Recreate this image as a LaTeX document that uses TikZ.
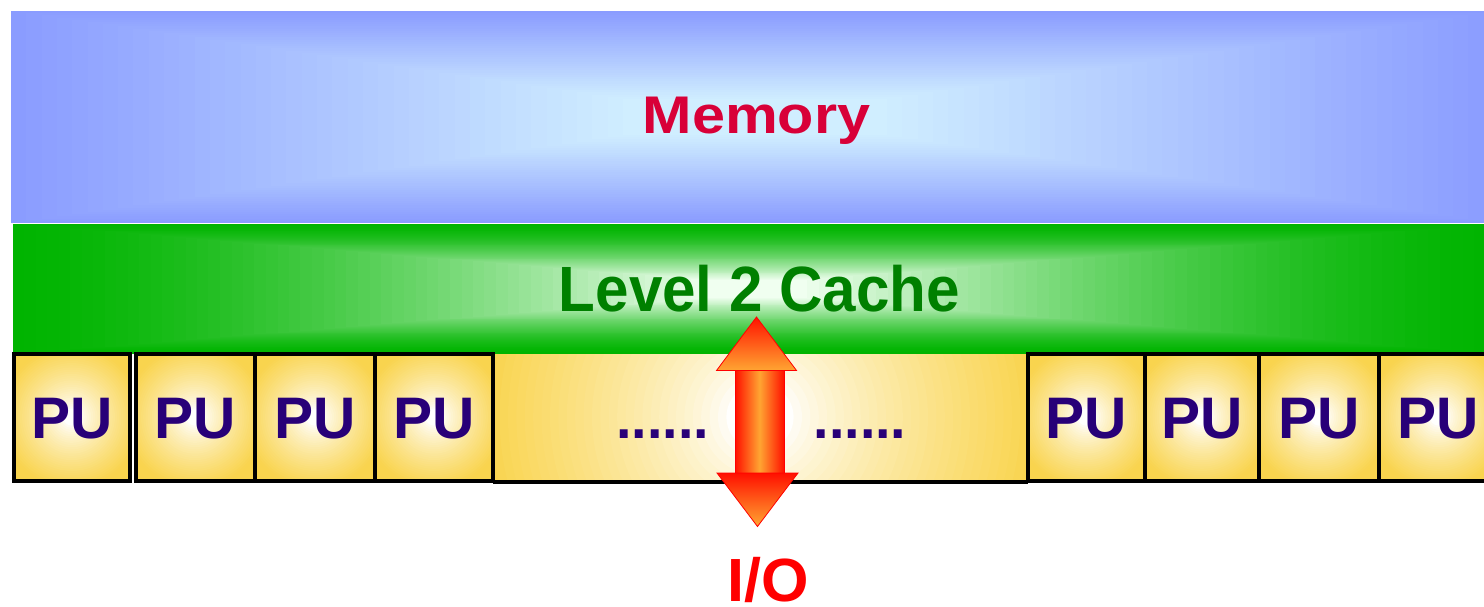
\documentclass[tikz,border=0pt]{standalone}
\usepackage{fontspec}
\setmainfont{Liberation Sans}
\usepackage{graphicx}

\definecolor{memedge}{RGB}{138,156,255}
\definecolor{memcore}{RGB}{208,238,255}
\definecolor{ltwoedge}{RGB}{0,180,0}
\definecolor{ltwocore}{RGB}{240,255,240}
\definecolor{puyellow}{RGB}{249,212,78}
\definecolor{pupurple}{RGB}{40,0,120}
\definecolor{memred}{RGB}{216,0,56}
\definecolor{ltwogreen}{RGB}{0,128,0}
\definecolor{arrred}{RGB}{255,16,0}
\definecolor{arrorange}{RGB}{255,165,50}

% concentric discs: white in the middle, yellow toward the rim
% #1 = centre x, #2 = centre y, #3 = radius of full yellow
\newcommand\glowdiscs[3]{%
  \foreach \j in {0,...,44}{%
    \pgfmathsetmacro\rad{1.35*#3*(1-\j/45)}%
    \pgfmathsetmacro\s{min(1,max(0.001,(\rad/#3-0.12)/0.88))}%
    \pgfmathsetmacro\q{100-100*(\s^0.75)}%
    \fill[white!\q!puyellow] (#1,#2) circle[radius=\rad];
  }%
}

\begin{document}
\begin{tikzpicture}[x=1pt,y=-1pt,
  bigtext/.style={font=\fontsize{#1}{#1}\selectfont\bfseries,anchor=base,inner sep=0pt},
  pulabel/.style={bigtext=58.6,text=pupurple},
  boxrim/.style={draw=black,line width=4pt},
  arrowpart/.style={draw=red,line width=0.8pt}]

\useasboundingbox (0,0) rectangle (1484,606);
\clip (0,0) rectangle (1484,606);

% memory: nested rectangles brightening toward the centre
\foreach \i in {0,...,40}{
  \pgfmathsetmacro\tt{\i/40}
  \pgfmathsetmacro\p{100*\tt}
  \pgfmathsetmacro\ix{612*\tt}
  \pgfmathsetmacro\iy{88*\tt}
  \fill[memcore!\p!memedge] (11+\ix,11+\iy) rectangle (1499-\ix,223-\iy);
}

% level 2 cache: nested rectangles, wide and flat
\foreach \i in {0,...,60}{
  \pgfmathsetmacro\tt{\i/60}
  \pgfmathsetmacro\p{100*\tt*sqrt(\tt)}
  \pgfmathsetmacro\ix{690*\tt}
  \pgfmathsetmacro\iy{56*\tt}
  \fill[ltwocore!\p!ltwoedge] (13+\ix,224+\iy) rectangle (1497-\ix,354-\iy);
}

% wide middle block between the two groups of processing units
\begin{scope}
  \clip (493,354) rectangle (1027,481);
  \glowdiscs{760}{417}{280}
\end{scope}
\draw[line width=4pt] (493,482) -- (1027.5,482);

% processing units
\foreach \l/\r [count=\k] in {13.5/130, 135.5/254.5, 254.5/375, 375/493,
                              1027.5/1145, 1145/1259, 1259/1379, 1379/1498}{
  \pgfmathsetmacro\cx{(\l+\r)/2}
  \begin{scope}
    \clip (\l,353.5) rectangle (\r,481);
    \glowdiscs{\cx}{417}{72}
  \end{scope}
  \path[boxrim] (\l,353.5) rectangle (\r,481);
  \node[pulabel] (pu\k) at (\cx,438) {PU};
}

\node[pulabel] (dotsl) at (662.5,438) {\scalebox{0.95}[1]{......}};
\node[pulabel] (dotsr) at (860,438) {\scalebox{0.95}[1]{......}};

% double-headed I/O arrow
\shade[arrowpart,left color=arrred,right color=arrred,middle color=arrorange]
  (735,370.5) rectangle (784,473);
\shade[arrowpart,top color=red!85!orange,bottom color=arrorange]
  (756.5,317) -- (796.5,370.5) -- (716.5,370.5) -- cycle;
\shade[arrowpart,top color=arrred,bottom color=arrorange]
  (717,473) -- (798,473) -- (757.5,526.5) -- cycle;

% labels
\node[bigtext=53,text=memred] (memory) at (756.5,133) {\scalebox{1.12}[1]{Memory}};
\node[bigtext=64,text=ltwogreen] (cache) at (759.5,311) {\scalebox{0.94}[1]{Level 2 Cache}};
\node[bigtext=61,text=red] (io) at (768.5,601) {I/O};

\end{tikzpicture}
\end{document}
